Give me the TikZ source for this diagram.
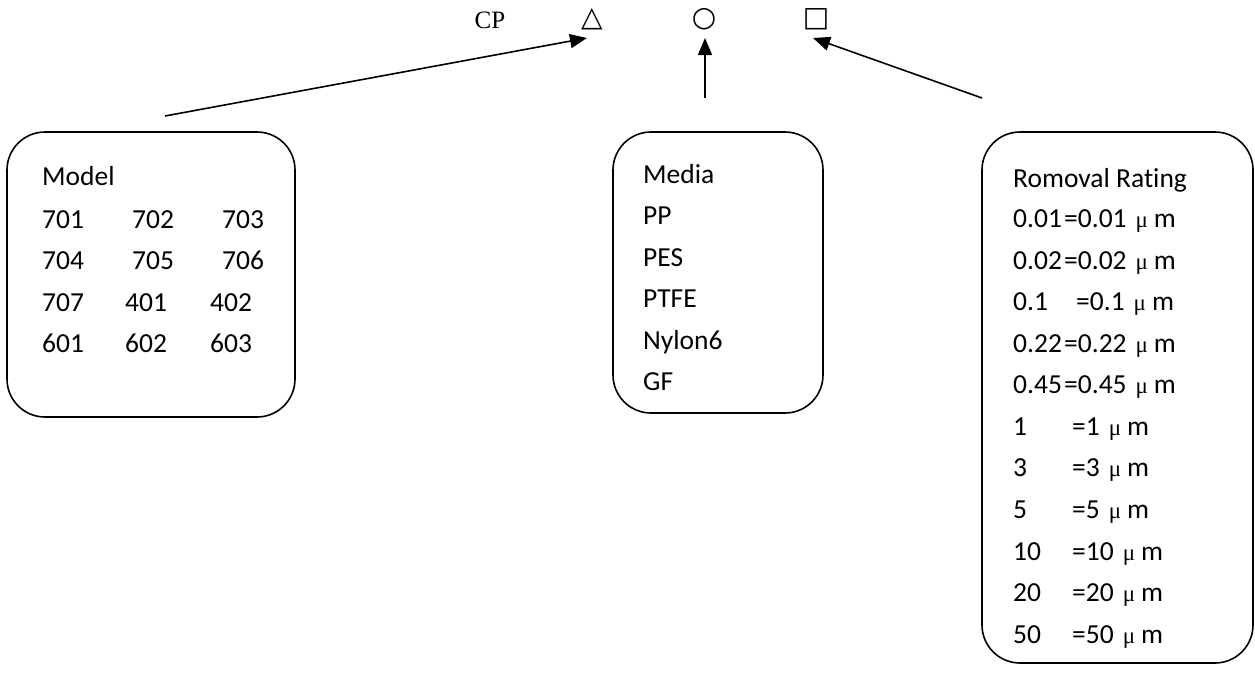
\documentclass[tikz,border=0pt]{standalone}
\usepackage{fontspec}
\setmainfont{Carlito}[Ligatures={NoCommon}]
\newfontfamily\tnr{Liberation Serif}
\newfontfamily\dvs{DejaVu Sans}
\usetikzlibrary{arrows.meta,calc}
\newcommand\mymu{\hspace{9pt}{\tnr\fontsize{23}{24}\selectfont μ}\hspace{6pt}m}
\begin{document}
\begin{tikzpicture}[x=1pt,y=-1pt,
  txt/.style={anchor=base west, inner sep=0pt, font=\fontsize{27.5}{33}\selectfont},
  sym/.style={inner sep=0pt, font=\dvs\fontsize{28}{30}\selectfont},
  box/.style={draw, line width=1.6pt, rounded corners=38pt, inner sep=0pt},
  arr/.style={line width=1.6pt, -{Triangle[length=17pt,width=14pt]}}]
\useasboundingbox (0,0) rectangle (1255,673);
% header
\node[anchor=base, inner sep=0pt, font=\tnr\fontsize{25}{28}\selectfont] (cp) at (490,28) {CP};
\node[sym] (tri) at (592,19) {△};
\node[sym] (circ) at (704,19) {○};
\node[sym] (sq) at (816,19) {□};
% boxes
\node[box, minimum width=288pt, minimum height=285pt] (modelbox) at (151,274.5) {};
\node[box, minimum width=210pt, minimum height=281pt] (mediabox) at (718,272.5) {};
\node[box, minimum width=271pt, minimum height=531pt] (ratingbox) at (1117.5,397.5) {};
% arrows
\coordinate (ls) at (165,116);
\coordinate (ms) at (705,98);
\coordinate (rs) at (982,98);
\draw[arr] (ls) -- ($(tri.center)+(-5,19)$);
\draw[arr] (ms) -- ($(circ.center)+(1,19)$);
\draw[arr] (rs) -- ($(sq.center)+(-3,19)$);
% model
\node[txt] (mt) at (42,185) {Model};
\node[txt] (m11) at (42,228) {701};
\node[txt] (m12) at (132,228) {702};
\node[txt] (m13) at (222,228) {703};
\node[txt] (m21) at (42,269) {704};
\node[txt] (m22) at (132,269) {705};
\node[txt] (m23) at (222,269) {706};
\node[txt] (m31) at (42,311) {707};
\node[txt] (m32) at (125,311) {401};
\node[txt] (m33) at (210,311) {402};
\node[txt] (m41) at (42,352) {601};
\node[txt] (m42) at (125,352) {602};
\node[txt] (m43) at (210,352) {603};
% media
\node[txt] (dt) at (643,183) {Media};
\node[txt] (d1) at (643,224.5) {PP};
\node[txt] (d2) at (643,266) {PES};
\node[txt] (d3) at (643,307.5) {PTFE};
\node[txt] (d4) at (643,349) {Nylon6};
\node[txt] (d5) at (643,390.5) {GF};
% rating
\node[txt] (rt) at (1013,187) {Romoval Rating};
\node[txt] (ra1) at (1013,227) {0.01};
\node[txt] (rb1) at (1064,227) {=0.01\mymu};
\node[txt] (ra2) at (1013,269) {0.02};
\node[txt] (rb2) at (1064,269) {=0.02\mymu};
\node[txt] (ra3) at (1013,310) {0.1};
\node[txt] (rb3) at (1076,310) {=0.1\mymu};
\node[txt] (ra4) at (1013,352) {0.22};
\node[txt] (rb4) at (1064,352) {=0.22\mymu};
\node[txt] (ra5) at (1013,393) {0.45};
\node[txt] (rb5) at (1064,393) {=0.45\mymu};
\node[txt] (ra6) at (1013,435) {1};
\node[txt] (rb6) at (1072,435) {=1\mymu};
\node[txt] (ra7) at (1013,476) {3};
\node[txt] (rb7) at (1072,476) {=3\mymu};
\node[txt] (ra8) at (1013,518) {5};
\node[txt] (rb8) at (1072,518) {=5\mymu};
\node[txt] (ra9) at (1013,560) {10};
\node[txt] (rb9) at (1072,560) {=10\mymu};
\node[txt] (ra10) at (1013,601) {20};
\node[txt] (rb10) at (1072,601) {=20\mymu};
\node[txt] (ra11) at (1013,643) {50};
\node[txt] (rb11) at (1072,643) {=50\mymu};
\end{tikzpicture}
\end{document}
